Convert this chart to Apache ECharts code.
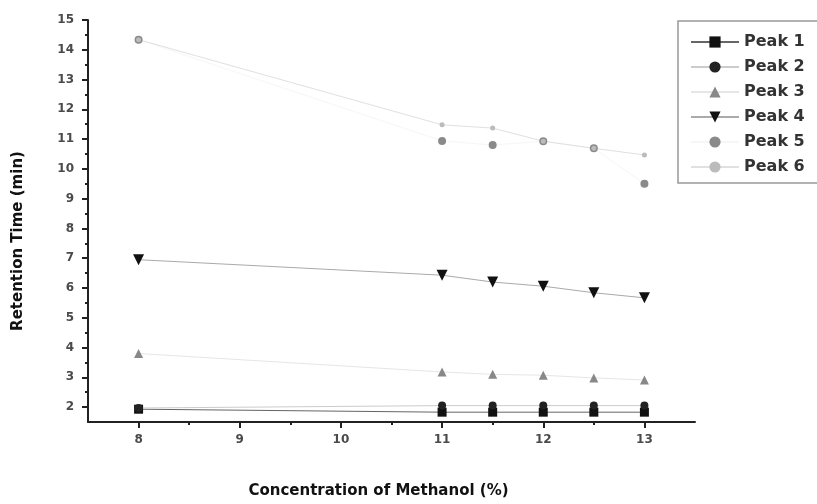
<!DOCTYPE html>
<html>
<head>
<meta charset="utf-8">
<script src="https://cdn.jsdelivr.net/npm/echarts@6/dist/echarts.min.js"></script>
<style>
  html, body { margin: 0; padding: 0; background: #fff; }
  #chart { width: 817px; height: 504px; }
</style>
</head>
<body>
<div id="chart"></div>
<script>
// Methanol concentration (%) used for each run
const methanol = [8, 11, 11.5, 12, 12.5, 13];

// Retention times (min) of each peak
const peak1 = [1.93, 1.83, 1.83, 1.83, 1.83, 1.83];
const peak2 = [1.97, 2.05, 2.05, 2.05, 2.05, 2.05];
const peak3 = [3.80, 3.18, 3.10, 3.07, 2.98, 2.91];
const peak4 = [6.95, 6.43, 6.20, 6.06, 5.84, 5.67];
const peak5 = [14.34, 10.94, 10.80, 10.93, 10.69, 9.50];
const peak6 = [14.34, 11.48, 11.37, 10.93, 10.69, 10.47];

// Axis tick labels
const xTicks = [8, 9, 10, 11, 12, 13];
const xMinor = [8.5, 9.5, 10.5, 11.5, 12.5];
const yTicks = [2, 3, 4, 5, 6, 7, 8, 9, 10, 11, 12, 13, 14, 15];
const yMinor = [2.5, 3.5, 4.5, 5.5, 6.5, 7.5, 8.5, 9.5, 10.5, 11.5, 12.5, 13.5, 14.5];

const pairs = arr => methanol.map((x, i) => [x, arr[i]]);

const labelFont = { fontFamily: 'DejaVu Sans', fontWeight: 'bold', fontSize: 12, color: '#4a4a4a' };
const axisLine = { show: true, lineStyle: { color: '#222', width: 2 } };

function mkSeries(name, data, symbol, size, color, lineColor, rotate) {
  return {
    name, type: 'line', data: pairs(data),
    symbol, symbolSize: size, symbolRotate: rotate || 0,
    itemStyle: { color },
    lineStyle: { color: lineColor, width: 1 },
    emphasis: { disabled: true },
    z: 3
  };
}

const chart = echarts.init(document.getElementById('chart'));
chart.setOption({
  animation: false,
  backgroundColor: '#fff',
  grid: { left: 88, right: 122, top: 20, bottom: 76, containLabel: false },
  legend: {
    orient: 'vertical',
    left: 678, top: 21,
    padding: [13, 50, 8, 12],
    itemWidth: 48, itemHeight: 14, itemGap: 9,
    borderColor: '#999', borderWidth: 1.5,
    textStyle: { fontFamily: 'DejaVu Sans', fontWeight: 'bold', fontSize: 16, color: '#333' },
    data: ['Peak 1', 'Peak 2', 'Peak 3', 'Peak 4', 'Peak 5', 'Peak 6']
  },
  xAxis: [{
    type: 'value', min: 7.5, max: 13.5,
    name: 'Concentration of Methanol (%)',
    nameLocation: 'middle', nameGap: 62,
    nameTextStyle: { fontFamily: 'DejaVu Sans', fontWeight: 'bold', fontSize: 15, color: '#111', padding: [0, 26, 0, 0] },
    axisLine,
    axisTick: { show: true, customValues: xTicks, length: 6, lineStyle: { color: '#222', width: 2 } },
    axisLabel: Object.assign({ customValues: xTicks, margin: 12 }, labelFont),
    splitLine: { show: false }
  }, {
    type: 'value', min: 7.5, max: 13.5, position: 'bottom',
    axisLine: { show: false },
    axisTick: { show: true, customValues: xMinor, length: 3, lineStyle: { color: '#222', width: 2 } },
    axisLabel: { show: false },
    splitLine: { show: false }
  }],
  yAxis: [{
    type: 'value', min: 1.5, max: 15,
    name: 'Retention Time (min)',
    nameLocation: 'middle', nameGap: 62, nameRotate: 90,
    nameTextStyle: { fontFamily: 'DejaVu Sans', fontWeight: 'bold', fontSize: 15, color: '#111', padding: [0, 40, 0, 0] },
    axisLine,
    axisTick: { show: true, customValues: yTicks, length: 6, lineStyle: { color: '#222', width: 2 } },
    axisLabel: Object.assign({ customValues: yTicks, margin: 14 }, labelFont),
    splitLine: { show: false }
  }, {
    type: 'value', min: 1.5, max: 15, position: 'left',
    axisLine: { show: false },
    axisTick: { show: true, customValues: yMinor, length: 3, lineStyle: { color: '#222', width: 2 } },
    axisLabel: { show: false },
    splitLine: { show: false }
  }],
  series: [
    mkSeries('Peak 1', peak1, 'rect', 9, '#111', '#666'),
    mkSeries('Peak 2', peak2, 'circle', 8, '#222', '#ccc'),
    mkSeries('Peak 3', peak3, 'triangle', 9, '#888', '#e6e6e6'),
    mkSeries('Peak 4', peak4, 'triangle', 11, '#111', '#aaa', 180),
    mkSeries('Peak 5', peak5, 'circle', 8, '#8a8a8a', '#f6f6f6'),
    mkSeries('Peak 6', peak6, 'circle', 5, '#bbb', '#e0e0e0')
  ]
});
</script>
</body>
</html>
